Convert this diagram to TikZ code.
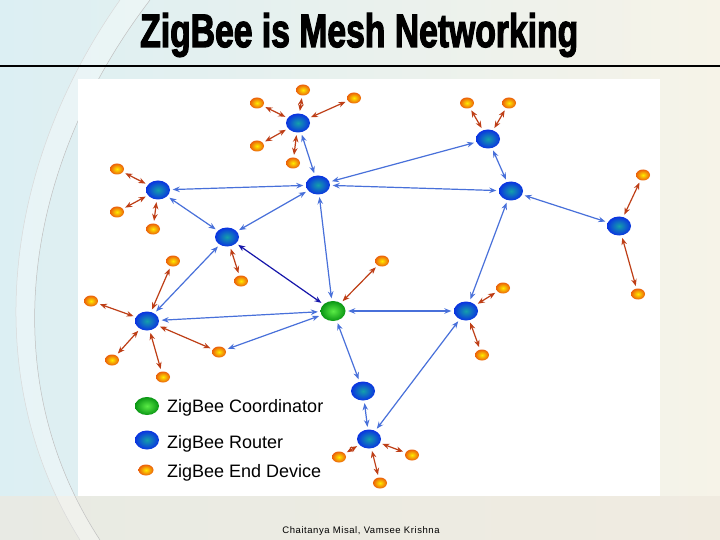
\documentclass[tikz,border=0pt]{standalone}
\usepackage{graphicx}
\usepackage{fontspec}
\setmainfont{Liberation Sans}
\newfontfamily\zbfont{Liberation Sans}[BoldFeatures={FakeBold=3}]
\newfontfamily\zbfoot{Liberation Sans}[LetterSpace=6]
\usetikzlibrary{shapes.geometric,arrows.meta}
\definecolor{bgL}{RGB}{220,239,243}
\definecolor{bgR}{RGB}{246,243,232}
\definecolor{bgB}{RGB}{238,233,222}
\definecolor{blueln}{RGB}{72,112,218}
\definecolor{redln}{RGB}{190,62,22}
\definecolor{navyln}{RGB}{22,22,170}
\definecolor{rtIn}{RGB}{20,160,170}
\definecolor{rtOut}{RGB}{10,50,225}
\definecolor{coIn}{RGB}{90,235,70}
\definecolor{coOut}{RGB}{10,150,20}
\definecolor{edIn}{RGB}{255,235,0}
\definecolor{edOut}{RGB}{235,95,10}
\tikzset{
  router/.style={ellipse, minimum width=24pt, minimum height=19pt, inner sep=0pt, shading=radial, inner color=rtIn, outer color=rtOut},
  coord/.style={ellipse, minimum width=25pt, minimum height=20pt, inner sep=0pt, shading=radial, inner color=coIn, outer color=coOut},
  enddev/.style={ellipse, minimum width=14pt, minimum height=11pt, inner sep=0pt, shading=radial, inner color=edIn, outer color=edOut},
  link/.style={line width=1.2pt, {Stealth[length=7pt,width=5.5pt]}-{Stealth[length=7pt,width=5.5pt]}, shorten <=2.5pt, shorten >=2.5pt},
  bl/.style={link, draw=blueln},
  rd/.style={link, draw=redln},
  nv/.style={link, draw=navyln},
  legtext/.style={anchor=base west, inner sep=0pt, font=\fontsize{18}{20}\selectfont}
}
\begin{document}
\begin{tikzpicture}[x=1pt,y=-1pt]
\useasboundingbox (0,0) rectangle (720,540);
% background
\fill[left color=bgL, right color=bgR] (0,0) rectangle (720,540);
\fill[bgB, opacity=0.7] (0,496) rectangle (720,540);
\fill[white, opacity=0.35] (150,0) .. controls (20,170) and (-5,380) .. (100,540) -- (80,540) .. controls (-20,380) and (0,170) .. (120,0) -- cycle;
\draw[black!25, line width=0.5pt] (150,0) .. controls (20,170) and (-5,380) .. (100,540);
\draw[black!15, line width=0.5pt] (120,0) .. controls (0,170) and (-20,380) .. (80,540);
% title and rule
\node[anchor=base west, inner sep=0pt] (title) at (140,47) {\resizebox{438pt}{34pt}{\zbfont\bfseries ZigBee is Mesh Networking}};
\draw[line width=1.3pt] (0,66) -- (720,66);
% picture area
\fill[white] (78,79) rectangle (660,496);
% routers
\node[router] (R1) at (298,123) {};
\node[router] (R2) at (158,190) {};
\node[router] (R3) at (318,185) {};
\node[router] (R4) at (227,237) {};
\node[router] (R5) at (488,139) {};
\node[router] (R6) at (511,191) {};
\node[router] (R7) at (619,226) {};
\node[router] (R8) at (147,321) {};
\node[router] (R9) at (466,311) {};
\node[router] (R10) at (363,391) {};
\node[router] (R11) at (369,439) {};
\node[coord] (C) at (333,311) {};
% end devices
\node[enddev] (e1) at (303,90) {};
\node[enddev] (e2) at (257,103) {};
\node[enddev] (e3) at (354,98) {};
\node[enddev] (e4) at (257,146) {};
\node[enddev] (e5) at (293,163) {};
\node[enddev] (e6) at (117,169) {};
\node[enddev] (e7) at (117,212) {};
\node[enddev] (e8) at (153,229) {};
\node[enddev] (e9) at (241,281) {};
\node[enddev] (e10) at (467,103) {};
\node[enddev] (e11) at (509,103) {};
\node[enddev] (e12) at (643,175) {};
\node[enddev] (e13) at (638,294) {};
\node[enddev] (e14) at (91,301) {};
\node[enddev] (e15) at (173,261) {};
\node[enddev] (e16) at (112,360) {};
\node[enddev] (e17) at (163,377) {};
\node[enddev] (e18) at (219,352) {};
\node[enddev] (e19) at (382,261) {};
\node[enddev] (e20) at (503,288) {};
\node[enddev] (e21) at (482,355) {};
\node[enddev] (e22) at (339,457) {};
\node[enddev] (e23) at (412,455) {};
\node[enddev] (e24) at (380,483) {};
% blue links
\draw[bl] (R1) -- (R3);
\draw[bl] (R2) -- (R3);
\draw[bl] (R2) -- (R4);
\draw[bl] (R3) -- (R4);
\draw[bl] (R3) -- (R5);
\draw[bl] (R3) -- (R6);
\draw[bl] (R5) -- (R6);
\draw[bl] (R6) -- (R7);
\draw[bl] (R6) -- (R9);
\draw[bl] (R3) -- (C);
\draw[nv] (R4) -- (C);
\draw[bl] (R8) -- (R4);
\draw[bl] (R8) -- (C);
\draw[bl] (C) -- (e18);
\draw[bl] (C) -- (R9);
\draw[bl] (C) -- (R10);
\draw[bl] (R10) -- (R11);
\draw[bl] (R9) -- (R11);
% red links
\foreach \e in {e1,e2,e3,e4,e5} \draw[rd] (R1) -- (\e);
\foreach \e in {e6,e7,e8} \draw[rd] (R2) -- (\e);
\draw[rd] (R4) -- (e9);
\foreach \e in {e10,e11} \draw[rd] (R5) -- (\e);
\foreach \e in {e12,e13} \draw[rd] (R7) -- (\e);
\foreach \e in {e14,e15,e16,e17,e18} \draw[rd] (R8) -- (\e);
\draw[rd] (C) -- (e19);
\foreach \e in {e20,e21} \draw[rd] (R9) -- (\e);
\foreach \e in {e22,e23,e24} \draw[rd] (R11) -- (\e);
% legend
\node[coord, minimum width=24pt, minimum height=18pt] (lc) at (147,406) {};
\node[router, minimum height=19pt] (lr) at (147,440) {};
\node[enddev, minimum width=15pt] (le) at (146,470) {};
\node[legtext] (tc) at (167,412) {ZigBee Coordinator};
\node[legtext] (tr) at (167,448) {ZigBee Router};
\node[legtext] (te) at (167,477) {ZigBee End Device};
% footer
\node[font=\zbfoot\fontsize{9.5}{11}\selectfont, inner sep=0pt] (foot) at (361,531) {Chaitanya Misal, Vamsee Krishna};
\end{tikzpicture}
\end{document}
